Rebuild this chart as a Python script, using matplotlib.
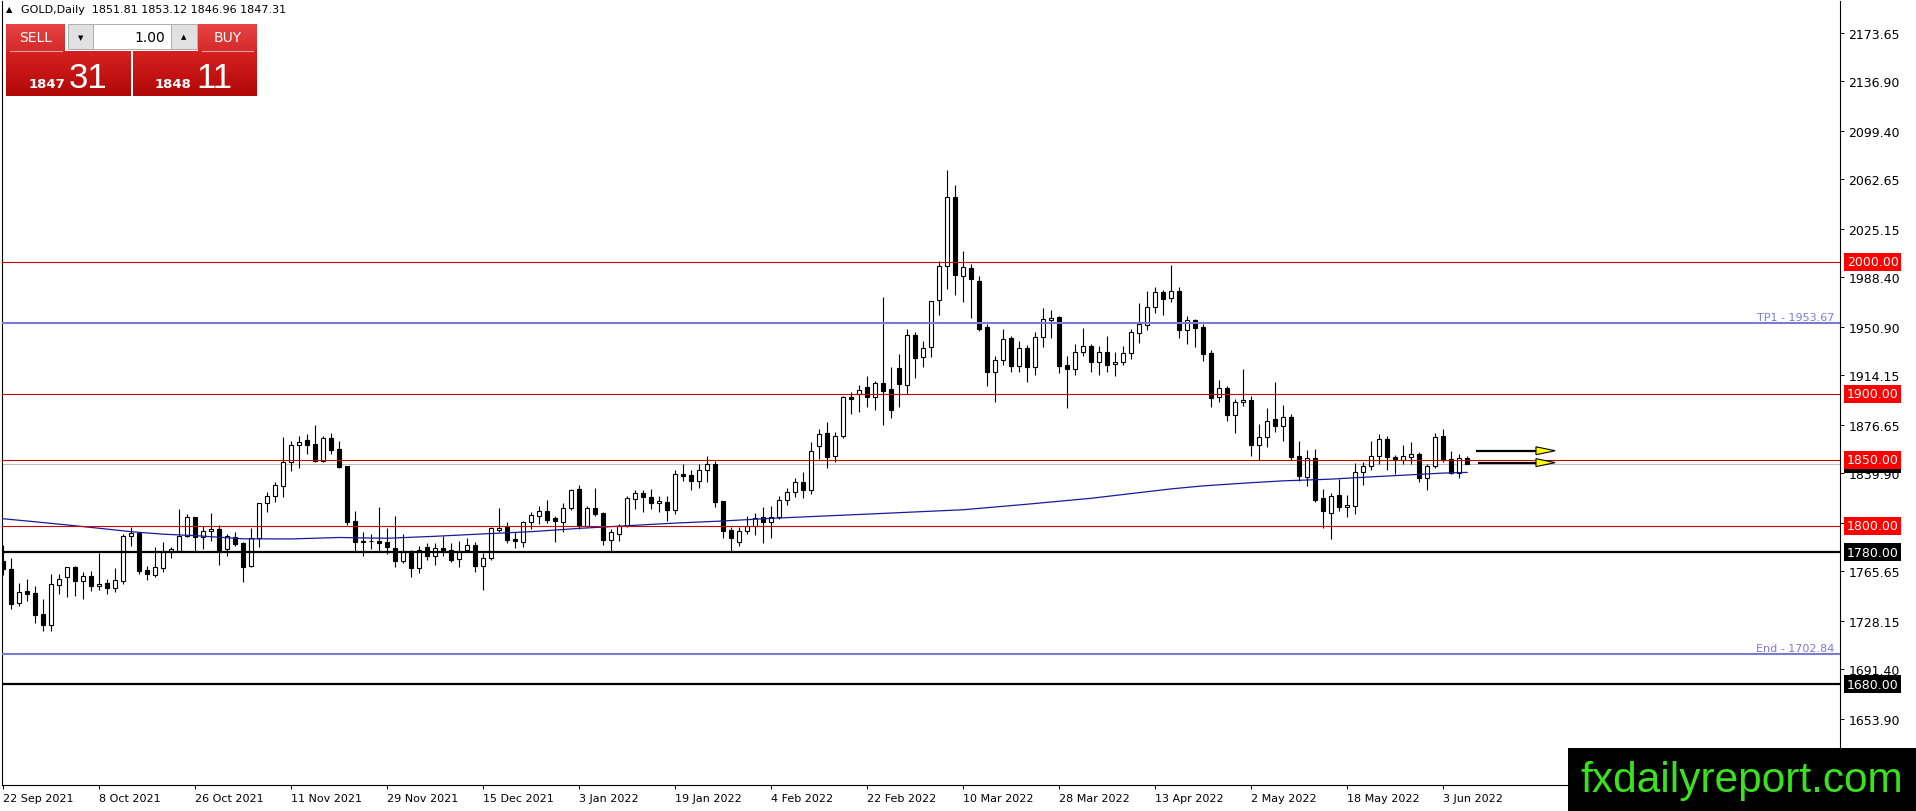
"""
Grafico diario do ouro (GOLD, Daily) no estilo MetaTrader 4
"""

import matplotlib
matplotlib.use('Agg')
import matplotlib.pyplot as plt
import numpy as np
import pandas as pd
from matplotlib.colors import LinearSegmentedColormap
from matplotlib.patches import Rectangle, Polygon

plt.rcParams['font.family'] = ['DejaVu Sans']

# ========================================
# DADOS
# ========================================

INICIO = '2021-09-22'
FIM = '2022-06-08'
FERIADOS = ['2021-12-24', '2022-04-15']

abre = [
    1773.8, 1767.5, 1741.4, 1750.8, 1749.3, 1733.4, 1725.3, 1755.6, 1761.1, 1769.2,
    1758.6, 1761.9, 1754.3, 1756.8, 1752.8, 1758.6, 1792.2, 1794.5, 1766.7, 1762.9,
    1768.5, 1780.1, 1781.3, 1792.2, 1806.6, 1791.9, 1795.9, 1797.7, 1782.6, 1791.9,
    1787.1, 1770.0, 1790.7, 1817.2, 1823.0, 1830.5, 1848.2, 1861.4, 1865.4, 1862.1,
    1849.5, 1866.7, 1858.3, 1845.2, 1803.5, 1788.1, 1788.9, 1788.9, 1788.1, 1783.4,
    1773.8, 1780.8, 1768.0, 1783.9, 1777.5, 1783.4, 1781.8, 1775.0, 1782.1, 1785.6,
    1770.0, 1776.0, 1797.3, 1799.5, 1790.2, 1788.1, 1803.1, 1807.9, 1811.6, 1805.8,
    1803.3, 1813.7, 1828.1, 1800.3, 1813.4, 1809.9, 1789.6, 1793.9, 1799.8, 1820.5,
    1825.0, 1821.7, 1817.2, 1817.9, 1812.4, 1839.4, 1838.6, 1833.8, 1842.4, 1847.0,
    1818.7, 1797.0, 1787.6, 1796.5, 1800.3, 1806.6, 1803.3, 1806.6, 1820.0, 1826.0,
    1833.0, 1827.0, 1860.4, 1870.2, 1852.8, 1868.4, 1897.5, 1900.0, 1905.0, 1897.5,
    1908.1, 1903.8, 1919.4, 1907.1, 1944.7, 1927.8, 1935.3, 1971.4, 1996.7, 2049.0,
    1989.7, 1995.4, 1985.8, 1950.5, 1916.9, 1926.0, 1942.2, 1921.5, 1934.8, 1920.2,
    1942.9, 1956.3, 1958.1, 1921.9, 1918.6, 1931.6, 1936.1, 1924.0, 1931.6, 1922.4,
    1924.0, 1930.8, 1946.2, 1952.5, 1965.6, 1977.0, 1972.5, 1977.8, 1948.8, 1956.3,
    1950.5, 1931.1, 1897.5, 1904.6, 1884.4, 1893.7, 1895.5, 1861.7, 1867.2, 1881.1,
    1876.0, 1882.4, 1852.8, 1837.0, 1851.3, 1821.0, 1809.6, 1823.5, 1814.1, 1815.4,
    1840.7, 1845.2, 1852.8, 1865.9, 1852.0, 1850.2, 1852.0, 1854.5, 1836.1, 1845.2,
    1867.9, 1850.7, 1840.1, 1851.81,
]
maxima = [
    1785.6, 1775.5, 1756.8, 1759.9, 1754.3, 1744.7, 1763.7, 1763.7, 1769.2, 1769.5,
    1764.9, 1765.7, 1779.3, 1759.9, 1768.2, 1794.0, 1799.0, 1795.2, 1770.0, 1783.9,
    1787.6, 1784.4, 1812.9, 1809.1, 1807.0, 1800.2, 1809.9, 1800.8, 1793.9, 1795.2,
    1787.5, 1798.2, 1817.5, 1825.5, 1833.1, 1867.2, 1864.6, 1868.4, 1869.7, 1876.5,
    1867.9, 1870.4, 1864.6, 1845.5, 1811.1, 1795.2, 1794.0, 1814.6, 1798.2, 1807.3,
    1794.0, 1782.1, 1785.1, 1787.1, 1787.1, 1792.2, 1787.1, 1788.4, 1790.9, 1788.1,
    1779.6, 1799.5, 1813.7, 1802.8, 1795.7, 1804.1, 1810.4, 1814.9, 1819.7, 1807.3,
    1817.4, 1828.1, 1831.1, 1815.4, 1828.8, 1810.4, 1797.7, 1801.5, 1822.5, 1827.5,
    1827.5, 1828.0, 1822.5, 1822.5, 1842.4, 1847.0, 1842.4, 1847.0, 1852.8, 1849.0,
    1819.2, 1799.5, 1799.0, 1807.8, 1809.9, 1814.1, 1814.9, 1823.0, 1829.0, 1836.0,
    1840.7, 1863.9, 1873.5, 1878.5, 1871.5, 1898.7, 1901.3, 1907.1, 1913.4, 1910.1,
    1973.2, 1920.2, 1930.3, 1949.2, 1947.2, 1940.4, 1970.5, 2001.0, 2069.9, 2058.3,
    2008.6, 1998.5, 1989.1, 1953.0, 1928.5, 1949.2, 1944.2, 1939.9, 1937.1, 1947.2,
    1965.1, 1963.6, 1958.8, 1929.0, 1937.9, 1949.7, 1937.9, 1936.1, 1943.7, 1931.6,
    1936.6, 1949.2, 1968.9, 1977.8, 1980.8, 1979.0, 1997.7, 1980.8, 1959.4, 1956.9,
    1953.1, 1933.6, 1910.9, 1906.4, 1896.3, 1919.0, 1898.8, 1877.3, 1889.2, 1908.9,
    1891.7, 1884.9, 1864.7, 1857.6, 1858.4, 1828.1, 1824.7, 1835.6, 1823.7, 1847.7,
    1848.2, 1864.6, 1869.7, 1868.4, 1853.8, 1861.4, 1863.9, 1856.3, 1847.0, 1870.2,
    1873.5, 1857.1, 1854.5, 1853.12,
]
minima = [
    1762.9, 1737.2, 1739.2, 1743.5, 1726.5, 1720.7, 1720.7, 1748.5, 1746.5, 1747.2,
    1744.7, 1751.0, 1751.8, 1748.5, 1749.8, 1756.1, 1785.1, 1763.7, 1759.4, 1761.1,
    1765.4, 1775.5, 1781.0, 1791.4, 1781.3, 1782.6, 1788.9, 1770.7, 1777.5, 1785.1,
    1757.8, 1769.2, 1783.8, 1810.9, 1817.9, 1821.7, 1841.9, 1843.9, 1854.5, 1848.2,
    1848.2, 1854.5, 1843.7, 1800.8, 1780.1, 1777.5, 1782.6, 1780.1, 1778.8, 1768.7,
    1772.0, 1761.1, 1764.4, 1774.5, 1770.5, 1777.5, 1772.5, 1769.2, 1780.6, 1765.4,
    1751.8, 1774.5, 1795.2, 1787.1, 1783.4, 1784.4, 1797.7, 1801.5, 1802.0, 1788.2,
    1795.7, 1812.4, 1797.7, 1799.0, 1807.3, 1785.9, 1781.3, 1788.9, 1799.0, 1812.9,
    1810.9, 1812.9, 1810.9, 1804.0, 1809.1, 1834.3, 1827.5, 1828.5, 1833.6, 1814.1,
    1790.7, 1780.6, 1784.6, 1794.0, 1793.2, 1787.1, 1790.7, 1805.3, 1816.0, 1822.0,
    1821.5, 1824.0, 1850.8, 1843.7, 1848.7, 1866.4, 1884.8, 1886.6, 1889.9, 1888.1,
    1876.5, 1881.6, 1889.9, 1900.0, 1912.1, 1920.2, 1927.8, 1959.8, 1979.5, 1975.0,
    1969.9, 1957.3, 1948.0, 1905.8, 1894.2, 1922.0, 1916.9, 1916.9, 1909.3, 1914.4,
    1935.8, 1942.2, 1915.9, 1889.1, 1914.4, 1928.5, 1916.9, 1914.4, 1916.9, 1913.9,
    1921.9, 1926.5, 1938.6, 1948.7, 1961.3, 1959.8, 1969.4, 1942.5, 1937.9, 1935.9,
    1925.3, 1890.4, 1894.2, 1879.8, 1870.5, 1891.2, 1853.3, 1850.0, 1860.1, 1871.5,
    1864.7, 1850.0, 1834.4, 1830.6, 1818.0, 1798.3, 1790.2, 1811.6, 1806.6, 1809.1,
    1831.0, 1842.7, 1847.0, 1842.4, 1839.4, 1846.7, 1847.0, 1833.1, 1827.5, 1843.7,
    1848.2, 1839.4, 1836.1, 1846.96,
]
fecha = [
    1767.5, 1740.9, 1749.8, 1748.8, 1732.9, 1725.3, 1755.8, 1759.9, 1768.7, 1758.6,
    1761.9, 1754.3, 1756.1, 1753.1, 1759.1, 1792.2, 1794.7, 1766.2, 1763.9, 1768.7,
    1780.8, 1782.3, 1792.7, 1806.6, 1791.4, 1795.9, 1797.5, 1782.1, 1792.2, 1786.4,
    1768.7, 1790.7, 1817.2, 1823.0, 1831.1, 1848.7, 1861.4, 1863.4, 1861.6, 1849.5,
    1866.7, 1857.8, 1844.9, 1803.3, 1788.1, 1788.4, 1788.6, 1787.1, 1783.8, 1773.8,
    1780.8, 1768.0, 1782.1, 1777.5, 1783.1, 1781.1, 1774.5, 1781.3, 1785.6, 1770.0,
    1775.5, 1798.3, 1798.5, 1789.7, 1788.4, 1802.8, 1808.4, 1811.6, 1804.8, 1803.6,
    1813.7, 1827.3, 1799.8, 1813.4, 1809.1, 1789.6, 1795.2, 1800.3, 1821.2, 1825.0,
    1821.7, 1817.2, 1818.7, 1812.4, 1839.4, 1838.1, 1833.8, 1842.4, 1847.0, 1818.4,
    1796.5, 1790.7, 1796.0, 1800.3, 1805.8, 1803.3, 1806.6, 1819.7, 1826.0, 1833.0,
    1827.0, 1857.1, 1869.7, 1852.0, 1868.4, 1897.5, 1896.4, 1903.0, 1897.5, 1908.1,
    1902.5, 1888.1, 1907.6, 1944.7, 1927.3, 1934.6, 1970.2, 1996.7, 2049.0, 1990.4,
    1996.4, 1987.1, 1949.2, 1916.9, 1926.0, 1941.6, 1920.9, 1934.8, 1920.7, 1942.9,
    1956.5, 1957.6, 1921.5, 1918.9, 1931.6, 1936.1, 1924.0, 1931.6, 1922.2, 1923.9,
    1930.8, 1946.7, 1952.8, 1965.6, 1977.0, 1972.0, 1977.8, 1948.8, 1956.3, 1950.0,
    1930.3, 1896.8, 1904.3, 1884.4, 1893.7, 1895.7, 1861.7, 1867.2, 1879.8, 1876.0,
    1882.4, 1852.6, 1837.7, 1851.3, 1820.0, 1811.2, 1822.5, 1814.1, 1815.9, 1840.7,
    1845.2, 1852.8, 1865.9, 1852.0, 1850.2, 1852.8, 1854.5, 1836.1, 1845.2, 1867.2,
    1850.2, 1840.1, 1851.3, 1847.31,
]

# media movel (lida em alguns pontos do grafico)
ma_barra = [0, 4, 8, 12, 16, 20, 24, 30, 36, 42, 48, 54, 60, 66, 72, 78, 84, 90,
            96, 108, 120, 128, 136, 146, 150, 156, 160, 166, 170, 176, 180, 183]
ma_valor = [1805.5, 1803.2, 1800.8, 1798.3, 1795.7, 1793.8, 1792.7, 1790.3, 1790.2,
            1791.3, 1790.7, 1792.2, 1794.0, 1795.7, 1798.2, 1800.2, 1802.2, 1803.8,
            1805.8, 1809.0, 1812.3, 1816.5, 1821.0, 1828.1, 1830.4, 1832.8, 1834.2,
            1835.5, 1836.9, 1838.8, 1840.1, 1840.6]

# niveis horizontais
niveis_vermelhos = [2000.00, 1900.00, 1850.00, 1800.00]
niveis_pretos = [1780.00, 1680.00]
alvos = [1953.67, 1702.84]
nomes_alvos = ['TP1', 'End']
preco_bid = 1847.31

# setas (preco de cada seta)
setas = [1857.0, 1848.0]

# escala de precos (1616.40 fica escondido atras do logo)
ticks_preco = [2173.65, 2136.90, 2099.40, 2062.65, 2025.15, 1988.40, 1950.90,
               1914.15, 1876.65, 1839.90, 1802.40, 1765.65, 1728.15, 1691.40,
               1653.90]

titulo = 'GOLD,Daily  1851.81 1853.12 1846.96 1847.31'


def criar_grafico():
    W, H = 1916, 812
    fig = plt.figure(figsize=(W / 100, H / 100), dpi=100)
    fig.patch.set_facecolor('white')

    # area do grafico em pixels
    x0, x1, y_top, y_bot = 2, 1840, 2, 786
    ax = fig.add_axes([x0 / W, (H - y_bot) / H, (x1 - x0) / W, (y_bot - y_top) / H])
    ax.set_facecolor('white')

    datas = pd.bdate_range(INICIO, FIM)
    datas = datas[~datas.isin(pd.to_datetime(FERIADOS))]
    idx = np.arange(len(datas))

    o = np.array(abre)
    h = np.array(maxima)
    l = np.array(minima)
    c = np.array(fecha)

    # ========================================
    # VELAS
    # ========================================
    ax.vlines(idx, l, h, colors='black', linewidth=0.8, zorder=2)
    sobe = c >= o
    base = np.minimum(o, c)
    altura = np.maximum(np.abs(c - o), 0.15)
    ax.bar(idx, altura, bottom=base, width=0.55,
           color=np.where(sobe, 'white', 'black'),
           edgecolor='black', linewidth=0.8, zorder=3)

    # media movel
    ax.plot(ma_barra, ma_valor, color='#1a1a9c', linewidth=0.9, zorder=4)

    # ========================================
    # NIVEIS
    # ========================================
    for v in niveis_vermelhos:
        ax.axhline(v, color='#c40000', linewidth=0.8, zorder=4)
    for v in niveis_pretos:
        ax.axhline(v, color='black', linewidth=1.6, zorder=4)
    for v, nome in zip(alvos, nomes_alvos):
        ax.axhline(v, color='#7b7bd4', linewidth=1.5, zorder=4)
        ax.text(0.9967, v + 1.2, f'{nome} - {v:.2f}', transform=ax.get_yaxis_transform(),
                ha='right', va='bottom', fontsize=8, color='#7b7bd4', zorder=5)
    ax.axhline(preco_bid, color='#c0c0c0', linewidth=0.8, zorder=1)

    # setas
    for i, v in enumerate(setas):
        ini = 184.1 if i == 0 else 184.4
        ax.plot([ini, 191.9], [v, v], color='black', linewidth=1.6,
                solid_capstyle='butt', zorder=5)
        ax.add_patch(Polygon([(191.6, v + 3.0), (194.0, v), (191.6, v - 3.0)],
                             closed=True, facecolor='#ffff00', edgecolor='black',
                             linewidth=0.8, zorder=6))

    # ========================================
    # EIXOS
    # ========================================
    ax.set_xlim(-0.125, 229.6)
    ax.set_ylim(1603.8, 2197.7)

    pos_x = idx[::12]
    ax.set_xticks(pos_x)
    ax.set_xticklabels([f'{d.day} {d.strftime("%b %Y")}' for d in datas[pos_x]],
                       ha='left')
    ax.tick_params(axis='x', length=3, width=0.7, pad=2.5, labelsize=8, colors='black')

    ax.yaxis.tick_right()
    ax.set_yticks(ticks_preco)
    ax.set_yticklabels([f'{v:.2f}' for v in ticks_preco])
    ax.tick_params(axis='y', length=3, width=0.7, pad=3, labelsize=9, colors='black')

    for lado in ['left', 'right', 'bottom']:
        ax.spines[lado].set_color('black')
        ax.spines[lado].set_linewidth(0.8)
    ax.spines['top'].set_visible(False)

    def etiqueta(v, cor):
        ax.annotate(f'{v:.2f}', xy=(1, v), xycoords=ax.get_yaxis_transform(),
                    xytext=(5, 0), textcoords='offset points', ha='left', va='center',
                    fontsize=9, color='white', annotation_clip=False, zorder=7,
                    bbox=dict(boxstyle='square,pad=0.2', facecolor=cor, edgecolor='none'))

    etiqueta(preco_bid, 'black')
    for v in niveis_vermelhos:
        etiqueta(v, '#ff0000')
    for v in niveis_pretos:
        etiqueta(v, 'black')

    # ========================================
    # CAMADA SUPERIOR (titulo, painel, logo)
    # ========================================
    top = fig.add_axes([0, 0, 1, 1], zorder=10)
    top.patch.set_alpha(0)
    top.axis('off')

    top.text(6, 10, '\u25b2', fontsize=6, ha='left', va='center')
    top.text(21, 10, titulo, fontsize=8, ha='left', va='center')

    cab = LinearSegmentedColormap.from_list('cab', ['#e84444', '#d42a2a'])
    corpo = LinearSegmentedColormap.from_list('corpo', ['#d82020', '#b00808'])
    grad = np.linspace(0, 1, 64).reshape(-1, 1)

    def caixa(xa, xb, ya, yb, cmap):
        top.imshow(grad, extent=(xa, xb, yb, ya), cmap=cmap, aspect='auto', zorder=1)

    # SELL / BUY
    caixa(6, 65, 25, 52, cab)
    caixa(198, 257, 25, 52, cab)
    caixa(6, 131, 52, 97, corpo)
    caixa(133, 257, 52, 97, corpo)
    top.plot([10, 62], [51.5, 51.5], color='#f09a9a', linewidth=0.8, zorder=2)
    top.plot([202, 253], [51.5, 51.5], color='#f09a9a', linewidth=0.8, zorder=2)
    top.text(35.5, 38.5, 'SELL', fontsize=10, color='white', ha='center', va='center', zorder=3)
    top.text(227.5, 38.5, 'BUY', fontsize=10, color='white', ha='center', va='center', zorder=3)

    # controle de volume
    top.add_patch(Rectangle((68, 25), 25, 25, facecolor='#e1e1e1', edgecolor='#adadad',
                            linewidth=0.7, zorder=2))
    top.add_patch(Rectangle((93, 25), 78, 25, facecolor='white', edgecolor='#adadad',
                            linewidth=0.7, zorder=2))
    top.add_patch(Rectangle((171, 25), 26, 25, facecolor='#e1e1e1', edgecolor='#adadad',
                            linewidth=0.7, zorder=2))
    top.text(80.5, 38, '\u25bc', fontsize=5, ha='center', va='center', zorder=3)
    top.text(184, 37, '\u25b2', fontsize=5, ha='center', va='center', zorder=3)
    top.text(165, 37.5, '1.00', fontsize=10, ha='right', va='center', zorder=3)

    # precos
    top.text(29, 88, '1847', fontsize=9.5, fontweight='bold', color='white',
             ha='left', va='baseline', zorder=3)
    top.text(69, 88, '31', fontsize=25, color='white', family='Liberation Sans',
             ha='left', va='baseline', zorder=3)
    top.text(155, 88, '1848', fontsize=9.5, fontweight='bold', color='white',
             ha='left', va='baseline', zorder=3)
    top.text(196, 88, '11', fontsize=25, color='white', family='Liberation Sans',
             ha='left', va='baseline', zorder=3)

    # logo
    top.add_patch(Rectangle((1568, 749), 348, 63, facecolor='black', edgecolor='none', zorder=4))
    top.text(1742, 781, 'fxdailyreport.com', fontsize=30.5, color='#3ae21d',
             family='Liberation Sans', ha='center', va='center', zorder=5)

    top.set_xlim(0, W)
    top.set_ylim(H, 0)

    fig.savefig('out.png', dpi=100, facecolor='white')
    plt.close(fig)


if __name__ == '__main__':
    criar_grafico()
